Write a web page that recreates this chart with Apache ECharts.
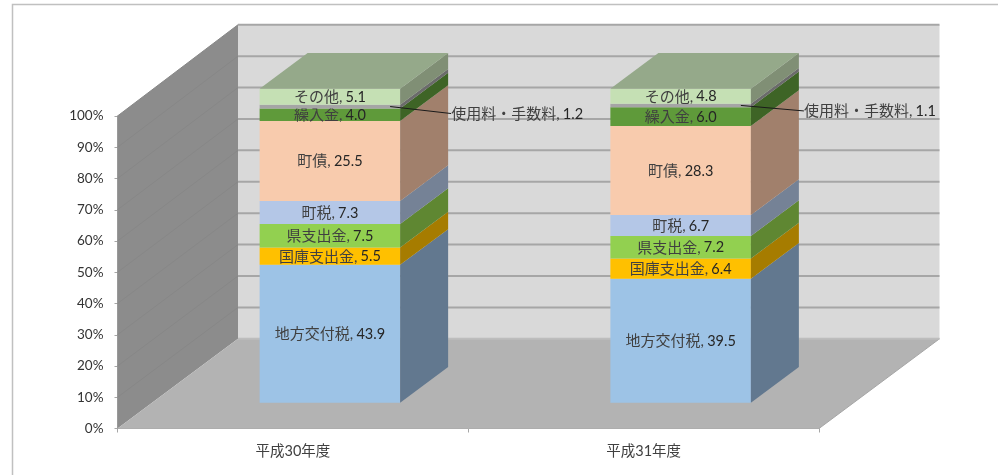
<!DOCTYPE html>
<html>
<head>
<meta charset="utf-8">
<style>html,body{margin:0;padding:0;background:#fff}#chart{width:998px;height:475px}</style>
<script src="https://cdn.jsdelivr.net/npm/echarts@6/dist/echarts.min.js"></script>
</head>
<body>
<div id="chart"></div>
<script>
const categories = ["平成30年度", "平成31年度"];
const tickValues = [0, 10, 20, 30, 40, 50, 60, 70, 80, 90, 100];

const seriesNames = ["地方交付税", "国庫支出金", "県支出金", "町税", "町債", "繰入金", "使用料・手数料", "その他"];
const chihouKoufuzei = [43.9, 39.5];
const kokkoShishutsu = [5.5, 6.4];
const kenShishutsu = [7.5, 7.2];
const chouzei = [7.3, 6.7];
const chousai = [25.5, 28.3];
const kurinyukin = [4.0, 6.0];
const shiyouryou = [1.2, 1.1];
const sonota = [5.1, 4.8];
const seriesValues = [chihouKoufuzei, kokkoShishutsu, kenShishutsu, chouzei, chousai, kurinyukin, shiyouryou, sonota];

const frontColors = ["#9dc3e6", "#ffc000", "#92d050", "#b4c7e7", "#f8cbad", "#5f9a3a", "#a5a5a5", "#c5e0b4"];
const sideColors = ["#62788f", "#a67c00", "#5f8732", "#758296", "#a1806c", "#3e6426", "#6b6b6b", "#808f75"];
const topColor = "#95a98a";

const FONT = "Lato, 'Noto Sans CJK JP', sans-serif";
const TEXT = "#404040";

// 3D projection of the Excel chart
const wallDx = 120.5, wallDy = -89.7;
const barShiftX = 37, barShiftY = -25.8, barW = 140.5, barDx = 48, barDy = -35.7;
const yScale = 1.005;

const labelRich = {
    n: { font: "15px " + FONT, fill: TEXT },
    v: { font: "14.5px " + FONT, fill: "#262626" }
};

const chart = echarts.init(document.getElementById("chart"));

function wallItem(params, api) {
    const cs = params.coordSys;
    const y0 = cs.y + cs.height;
    const v = api.value(1);
    const yFront = api.coord([0, v])[1];
    const yBack = y0 + wallDy + (yFront - y0) * yScale;
    const xL = cs.x, xR = cs.x + cs.width;
    const children = [];
    if (params.dataIndex === 0) {
        const topBack = y0 + wallDy + (cs.y - y0) * yScale;
        children.push(
            { type: "polygon", shape: { points: [[xL + wallDx, topBack], [xR + wallDx, topBack], [xR + wallDx, y0 + wallDy], [xL + wallDx, y0 + wallDy]] }, style: { fill: "#d9d9d9" } },
            { type: "polygon", shape: { points: [[xL, cs.y], [xL + wallDx, topBack], [xL + wallDx, y0 + wallDy], [xL, y0]] }, style: { fill: "#8c8c8c" } },
            { type: "polygon", shape: { points: [[xL, y0], [xR, y0], [xR + wallDx, y0 + wallDy], [xL + wallDx, y0 + wallDy]] }, style: { fill: "#b3b3b3" } },
            { type: "line", shape: { x1: xR, y1: y0, x2: xR + wallDx, y2: y0 + wallDy }, style: { stroke: "#a6a6a6", lineWidth: 1 } }
        );
    }
    if (v > 0) {
        children.push(
            { type: "line", shape: { x1: xL + wallDx, y1: yBack, x2: xR + wallDx, y2: yBack }, style: { stroke: "#a6a6a6", lineWidth: 2 } },
            { type: "line", shape: { x1: xL, y1: yFront, x2: xL + wallDx, y2: yBack }, style: { stroke: "#878787", lineWidth: 1 } }
        );
    } else {
        children.push({ type: "line", shape: { x1: xL + wallDx, y1: yBack, x2: xR + wallDx, y2: yBack }, style: { stroke: "#bdbdbd", lineWidth: 2 } });
    }
    return { type: "group", children };
}

function barSeries(name, s) {
    const isOutside = s === 6;
    const isLast = s === seriesNames.length - 1;
    const data = categories.map((c, i) => {
        let start = 0;
        for (let k = 0; k < s; k++) start += seriesValues[k][i];
        return [i, start, start + seriesValues[s][i], seriesValues[s][i]];
    });
    return {
        type: "custom",
        name,
        z: 3 + s,
        silent: true,
        data,
        renderItem(params, api) {
            const cs = params.coordSys;
            const y0 = cs.y + cs.height;
            const cx = api.coord([api.value(0), 0])[0] + barShiftX;
            const project = v => y0 + barShiftY + (api.coord([0, v])[1] - y0) * yScale;
            const yB = project(api.value(1));
            const yT = project(api.value(2));
            const xL = cx - barW / 2, xR = cx + barW / 2;
            const label = "{n|" + name + ",} {v|" + api.value(3).toFixed(1) + "}";
            const children = [
                { type: "polygon", shape: { points: [[xL, yT], [xR, yT], [xR, yB], [xL, yB]] }, style: { fill: frontColors[s] } },
                { type: "polygon", shape: { points: [[xR, yT], [xR + barDx, yT + barDy], [xR + barDx, yB + barDy], [xR, yB]] }, style: { fill: sideColors[s] } }
            ];
            if (isLast) {
                children.push({ type: "polygon", shape: { points: [[xL, yT], [xR, yT], [xR + barDx, yT + barDy], [xL + barDx, yT + barDy]] }, style: { fill: topColor } });
            }
            if (isOutside) {
                const yMid = (yT + yB) / 2;
                const tx = xR + (params.dataIndex === 0 ? 51 : 53);
                const ty = yMid + (params.dataIndex === 0 ? 7 : 5.5);
                children.push(
                    { type: "line", shape: { x1: xR - 10, y1: yMid, x2: tx, y2: ty }, style: { stroke: "#1a1a1a", lineWidth: 1 } },
                    { type: "text", style: { x: tx, y: ty + 0.5, text: label, rich: labelRich, textAlign: "left", textVerticalAlign: "middle" } }
                );
            } else {
                children.push({ type: "text", style: { x: cx, y: (yT + yB) / 2 + 0.5, text: label, rich: labelRich, textAlign: "center", textVerticalAlign: "middle" } });
            }
            return { type: "group", children };
        }
    };
}

const series = [{
    type: "custom",
    name: "walls",
    z: 1,
    silent: true,
    data: tickValues.map(v => [0, v]),
    renderItem: wallItem
}].concat(seriesNames.map(barSeries));

chart.setOption({
    animation: false,
    backgroundColor: "#fff",
    graphic: [
        { type: "polyline", z: 100, shape: { points: [[12.5, 475], [12.5, 4.5], [998, 4.5]] }, style: { stroke: "#c0c0c0", lineWidth: 1.5, fill: "none" } }
    ],
    grid: { left: 117.5, right: 179, top: 116, bottom: 46.5 },
    xAxis: {
        type: "category",
        data: categories,
        boundaryGap: true,
        axisLine: { lineStyle: { color: "#a6a6a6", width: 1 } },
        axisTick: { show: true, length: 4, alignWithLabel: false, lineStyle: { color: "#a6a6a6" } },
        axisLabel: { margin: 16, fontSize: 14.5, fontFamily: FONT, color: TEXT }
    },
    yAxis: {
        type: "value",
        min: 0,
        max: 100,
        interval: 10,
        splitLine: { show: false },
        axisLine: { show: true, lineStyle: { color: "#a6a6a6", width: 1 } },
        axisTick: { show: true, length: 3, lineStyle: { color: "#a6a6a6" } },
        axisLabel: { margin: 14, fontSize: 13.5, fontFamily: FONT, color: "#333", padding: [2, 0, 0, 0], formatter: "{value}%" }
    },
    series
});
</script>
</body>
</html>
